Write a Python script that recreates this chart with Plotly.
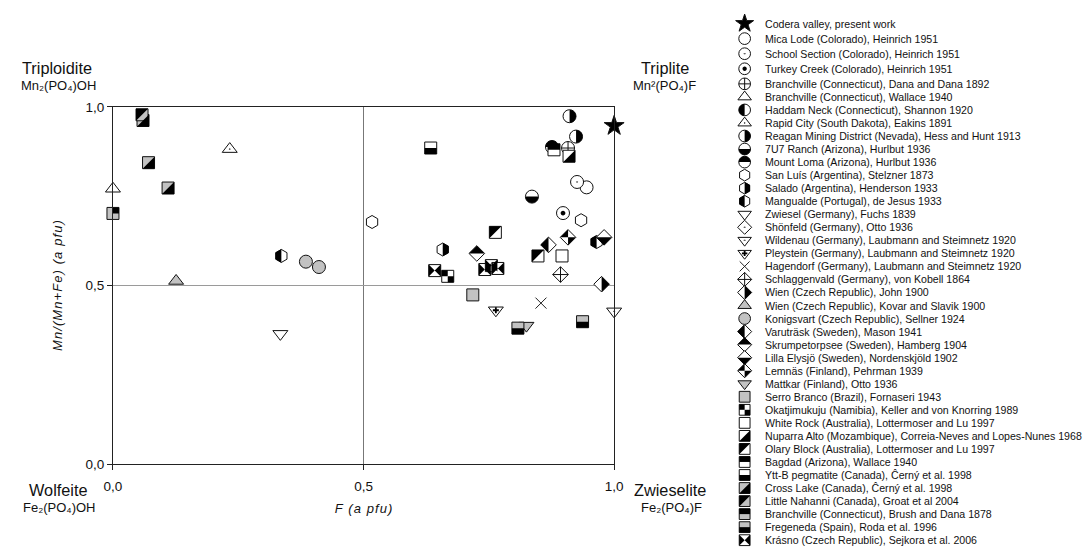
import plotly.graph_objects as go

# ---------------------------------------------------------------- data
sites = [
    "Codera valley, present work",
    "Mica Lode (Colorado), Heinrich 1951",
    "School Section (Colorado), Heinrich 1951",
    "Turkey Creek (Colorado), Heinrich 1951",
    "Branchville (Connecticut), Dana and Dana 1892",
    "Branchville (Connecticut), Wallace 1940",
    "Haddam Neck (Connecticut), Shannon 1920",
    "Rapid City (South Dakota), Eakins 1891",
    "Reagan Mining District (Nevada), Hess and Hunt 1913",
    "7U7 Ranch (Arizona), Hurlbut 1936",
    "Mount Loma (Arizona), Hurlbut 1936",
    "San Luís (Argentina), Stelzner 1873",
    "Salado (Argentina), Henderson 1933",
    "Mangualde (Portugal), de Jesus 1933",
    "Zwiesel (Germany), Fuchs 1839",
    "Shönfeld (Germany), Otto 1936",
    "Wildenau (Germany), Laubmann and Steimnetz 1920",
    "Pleystein (Germany), Laubmann and Steimnetz 1920",
    "Hagendorf (Germany), Laubmann and Steimnetz 1920",
    "Schlaggenvald (Germany), von Kobell 1864",
    "Wien (Czech Republic), John 1900",
    "Wien (Czech Republic), Kovar and Slavik 1900",
    "Konigsvart (Czech Republic), Sellner 1924",
    "Varuträsk (Sweden), Mason 1941",
    "Skrumpetorpsee (Sweden), Hamberg 1904",
    "Lilla Elysjö (Sweden), Nordenskjöld 1902",
    "Lemnäs (Finland), Pehrman 1939",
    "Mattkar (Finland), Otto 1936",
    "Serro Branco (Brazil), Fornaseri 1943",
    "Okatjimukuju (Namibia), Keller and von Knorring 1989",
    "White Rock (Australia), Lottermoser and Lu 1997",
    "Nuparra Alto (Mozambique), Correia-Neves and Lopes-Nunes 1968",
    "Olary Block (Australia), Lottermoser and Lu 1997",
    "Bagdad (Arizona), Wallace 1940",
    "Ytt-B pegmatite (Canada), Ĉerný et al. 1998",
    "Cross Lake (Canada), Ĉerný et al. 1998",
    "Little Nahanni (Canada), Groat et al 2004",
    "Branchville (Connecticut), Brush and Dana 1878",
    "Fregeneda (Spain), Roda et al. 1996",
    "Krásno (Czech Republic), Sejkora et al. 2006",
]

# analyses: locality index, F (a pfu), Mn/(Mn+Fe) (a pfu)
point_site = [0, 1, 2, 3, 4, 5, 7, 8, 8, 9, 10, 33, 11, 11, 12, 13, 13, 14,
              16, 17, 18, 19, 20, 21, 22, 22, 23, 24, 25, 26, 27, 28, 29, 30,
              31, 32, 32, 34, 35, 35, 35, 36, 37, 38, 38, 39, 39, 39, 39]
point_f = [1.000, 0.945, 0.926, 0.898, 0.908, 0.000, 0.233, 0.911, 0.924,
           0.836, 0.876, 0.880, 0.934, 0.517, 0.658, 0.336, 0.965, 0.334,
           1.000, 0.764, 0.854, 0.893, 0.975, 0.126, 0.385, 0.411, 0.869,
           0.726, 0.980, 0.908, 0.825, 0.718, 0.668, 0.896, 0.910, 0.763,
           0.848, 0.634, 0.071, 0.110, 0.060, 0.058, 0.000, 0.937, 0.808,
           0.642, 0.742, 0.755, 0.768]
point_mn = [0.947, 0.775, 0.790, 0.703, 0.885, 0.771, 0.882, 0.974, 0.917,
            0.749, 0.888, 0.880, 0.683, 0.678, 0.601, 0.583, 0.622, 0.365,
            0.428, 0.431, 0.451, 0.531, 0.504, 0.513, 0.567, 0.552, 0.614,
            0.590, 0.635, 0.635, 0.388, 0.474, 0.526, 0.583, 0.862, 0.649,
            0.583, 0.885, 0.844, 0.773, 0.962, 0.978, 0.702, 0.399, 0.381,
            0.542, 0.545, 0.556, 0.548]

axis_ticks = [0.0, 0.5, 1.0]
axis_ticktext = ["0,0", "0,5", "1,0"]

# end-member minerals at the corners of the diagram
end_members = ["Triploidite", "Triplite", "Wolfeite", "Zwieselite"]
end_formulas = ["Mn₂(PO₄)OH", "Mn²(PO₄)F", "Fe₂(PO₄)OH", "Fe₂(PO₄)F"]

# ---------------------------------------------------------------- symbol styles
WHITE, GREY, BLACK = "#ffffff", "#c2c2c2", "#000000"

site_symbol = [
    "star", "circle", "circle-dot", "circle", "circle-cross", "triangle-up",
    "circle", "triangle-up-dot", "circle", "circle", "circle", "hexagon",
    "hexagon", "hexagon", "triangle-down", "diamond-dot", "triangle-down-dot",
    "triangle-down", "x-thin-open", "diamond-cross", "diamond", "triangle-up",
    "circle", "diamond", "diamond", "diamond", "diamond", "triangle-down",
    "square", "square", "square", "square", "square", "square", "square",
    "square", "square", "square", "square", "square",
]
# fill colour (for the open "x" this is its stroke colour)
site_fill = [
    BLACK, WHITE, WHITE, WHITE, WHITE, WHITE, WHITE, WHITE, WHITE, WHITE,
    WHITE, WHITE, WHITE, WHITE, WHITE, WHITE, WHITE, WHITE, "#222222", WHITE,
    WHITE, GREY, GREY, WHITE, WHITE, WHITE, WHITE, GREY, GREY, WHITE,
    WHITE, WHITE, WHITE, WHITE, WHITE, GREY, GREY, GREY, GREY, WHITE,
]
# black parts painted over the base symbol
site_overlay = [
    None, None, None, "disc", None, None, "left", None, "right", "bottom",
    "top", None, "right", "left", None, None, None, "plus", None, None,
    "right", None, None, "left", "top", "bottom", "quarters", None, None,
    "checker", None, "lr", "ul", "top", "bottom", "lr", "ul", "top",
    "bottom", "bowtie",
]

BASE_SIZE = {"circle": 13, "square": 12, "diamond": 12, "triangle": 13,
             "hexagon": 13, "star": 15, "x": 11}


def family(sym):
    for key in ("circle", "square", "diamond", "triangle", "hexagon", "star"):
        if sym.startswith(key):
            return key
    return "x"


K = 0.5523


def fmt(pts):
    return " ".join(f"{x:.2f},{-y:.2f}" for x, y in pts)


def poly(pts):
    return "M" + fmt(pts[:1]) + "".join(" L" + fmt([p]) for p in pts[1:]) + " Z"


def circle_half(r, side):
    k = K * r
    if side == "left":
        return (f"M{fmt([(0, -r)])} C{fmt([(-k, -r), (-r, -k), (-r, 0)])} "
                f"C{fmt([(-r, k), (-k, r), (0, r)])} Z")
    if side == "right":
        return (f"M{fmt([(0, -r)])} C{fmt([(k, -r), (r, -k), (r, 0)])} "
                f"C{fmt([(r, k), (k, r), (0, r)])} Z")
    if side == "top":
        return (f"M{fmt([(-r, 0)])} C{fmt([(-r, -k), (-k, -r), (0, -r)])} "
                f"C{fmt([(k, -r), (r, -k), (r, 0)])} Z")
    return (f"M{fmt([(-r, 0)])} C{fmt([(-r, k), (-k, r), (0, r)])} "
            f"C{fmt([(k, r), (r, k), (r, 0)])} Z")


def disc(d):
    return circle_half(d, "left") + " " + circle_half(d, "right")


def overlay_paths(sym, kind, size):
    """SVG-style (y down) paths of the black parts of a symbol."""
    r = size / 2.0
    fam = family(sym)
    if kind == "disc":
        return [disc(2.4 * size / 13)]
    if kind == "plus":
        w, l = 0.9, 3.0 * size / 13
        return [poly([(-w, -l), (w, -l), (w, -w), (l, -w), (l, w), (w, w),
                      (w, l), (-w, l), (-w, w), (-l, w), (-l, -w), (-w, -w)])]
    if fam == "circle":
        return [circle_half(r, kind)]
    if fam == "hexagon":
        r1, r2, r3 = r * 1.05, r * 0.525, r * 0.866 * 1.05
        sgn = -1 if kind == "left" else 1
        return [poly([(0, -r1), (sgn * r3, -r2), (sgn * r3, r2), (0, r1)])]
    if fam == "diamond":
        d = r * 1.3
        if kind == "left":
            return [poly([(0, -d), (-d, 0), (0, d)])]
        if kind == "right":
            return [poly([(0, -d), (d, 0), (0, d)])]
        if kind == "top":
            return [poly([(-d, 0), (0, -d), (d, 0)])]
        if kind == "bottom":
            return [poly([(-d, 0), (0, d), (d, 0)])]
        return [poly([(0, 0), (-d, 0), (0, -d)]), poly([(0, 0), (d, 0), (0, d)])]
    h = r
    if kind == "top":
        return [poly([(-h, -h), (h, -h), (h, 0), (-h, 0)])]
    if kind == "bottom":
        return [poly([(-h, 0), (h, 0), (h, h), (-h, h)])]
    if kind == "ul":
        return [poly([(-h, -h), (h, -h), (-h, h)])]
    if kind == "lr":
        return [poly([(h, -h), (h, h), (-h, h)])]
    if kind == "checker":
        return [poly([(-h, -h), (0, -h), (0, 0), (-h, 0)]),
                poly([(0, 0), (h, 0), (h, h), (0, h)])]
    if kind == "bowtie":
        return [poly([(-h, -h), (0, 0), (-h, h)]), poly([(h, -h), (0, 0), (h, h)])]
    return []


def overlay_shapes(xs, ys, site_idx, scale, xref, yref):
    out = []
    for x, y, s in zip(xs, ys, site_idx):
        kind = site_overlay[s]
        if not kind:
            continue
        size = BASE_SIZE[family(site_symbol[s])] * scale
        for p in overlay_paths(site_symbol[s], kind, size):
            out.append(dict(type="path", xref=xref, yref=yref,
                            xsizemode="pixel", ysizemode="pixel",
                            xanchor=x, yanchor=y, path=p,
                            fillcolor=BLACK, line=dict(width=0), layer="above"))
    return out


# ---------------------------------------------------------------- figure
W, H = 1090, 555
FONT = "Liberation Sans, Arial, DejaVu Sans, sans-serif"
INK = "#111111"


def fx(px):
    return px / W


def fy(py):
    return 1 - py / H


fig = go.Figure()

# diagram points
fig.add_trace(go.Scatter(
    x=point_f, y=point_mn, mode="markers", cliponaxis=False,
    text=[sites[s] for s in point_site], hoverinfo="text+x+y",
    marker=dict(symbol=[site_symbol[s] for s in point_site],
                color=[site_fill[s] for s in point_site],
                size=[BASE_SIZE[family(site_symbol[s])] for s in point_site],
                opacity=1, line=dict(color=INK, width=1)),
))

# symbol key: its own axes, measured in pixels from the top-left corner
KEY_SCALE = 0.9


def key_row(i):
    # the first rows of the key are spaced slightly wider
    return 79 + (i - 4) * 13.4 if i >= 4 else 79 - (4 - i) * 15.5


key_y = [key_row(i) for i in range(len(sites))]
fig.add_trace(go.Scatter(
    x=[0] * len(sites), y=key_y, xaxis="x2", yaxis="y2", mode="markers",
    cliponaxis=False, hoverinfo="skip",
    marker=dict(symbol=site_symbol, color=site_fill,
                size=[BASE_SIZE[family(s)] * KEY_SCALE for s in site_symbol],
                opacity=1, line=dict(color=INK, width=1)),
))

shapes = overlay_shapes(point_f, point_mn, point_site, 1.0, "x", "y")
shapes += overlay_shapes([0] * len(sites), key_y, list(range(len(sites))),
                         KEY_SCALE, "x2", "y2")

annotations = []
for name, yk in zip(sites, key_y):
    annotations.append(dict(x=19, y=yk, xref="x2", yref="y2", text=name,
                            xanchor="left", yanchor="middle", showarrow=False,
                            font=dict(size=10.6, family=FONT, color=INK)))

# label placement (px): name centre x, formula centre x, name y, formula y
corner_pos = [(49, 50, 63, 81), (667, 667, 63, 81),
              (50, 51, 496, 514), (672, 674, 496, 514)]
for name, formula, (cx1, cx2, y1, y2) in zip(end_members, end_formulas, corner_pos):
    annotations.append(dict(x=fx(cx1), y=fy(y1), xref="paper", yref="paper",
                            text=name, showarrow=False, xanchor="center",
                            yanchor="middle",
                            font=dict(size=16.3, family=FONT, color=INK)))
    annotations.append(dict(x=fx(cx2), y=fy(y2), xref="paper", yref="paper",
                            text=formula, showarrow=False, xanchor="center",
                            yanchor="middle",
                            font=dict(size=13, family=FONT, color=INK)))

HS = "\u200a"
ytitle = HS.join("Mn/(Mn+Fe) (a pfu)")
xtitle = HS.join("F (a pfu)")

axis_common = dict(
    range=[0, 1], tickvals=axis_ticks, ticktext=axis_ticktext,
    ticks="outside", ticklen=5, tickwidth=1, tickcolor="#222222",
    showline=True, linecolor="#222222", linewidth=1, mirror=True,
    zeroline=False, showgrid=True, gridwidth=1, fixedrange=True,
    tickfont=dict(size=13.5, family=FONT, color=INK),
)

fig.update_layout(
    width=W, height=H, margin=dict(l=0, r=0, t=0, b=0),
    paper_bgcolor="white", plot_bgcolor="white", showlegend=False,
    xaxis=dict(domain=[fx(105.7), fx(615.3)], gridcolor="#777777",
               ticklabelstandoff=5,
               title=dict(text="<i>" + xtitle + "</i>", standoff=10,
                          font=dict(size=13, family=FONT, color=INK)),
               **axis_common),
    yaxis=dict(domain=[fy(470), fy(102.7)], gridcolor="#9a9a9a",
               title=dict(text="<i>" + ytitle + "</i>", standoff=19,
                          font=dict(size=13, family=FONT, color=INK)),
               **axis_common),
    xaxis2=dict(domain=[fx(730), 1], range=[-18, 342], visible=False,
                fixedrange=True, anchor="y2"),
    yaxis2=dict(domain=[0, 1], range=[H, 0], visible=False,
                fixedrange=True, anchor="x2"),
    shapes=shapes, annotations=annotations,
)

fig.write_html("out.html")
